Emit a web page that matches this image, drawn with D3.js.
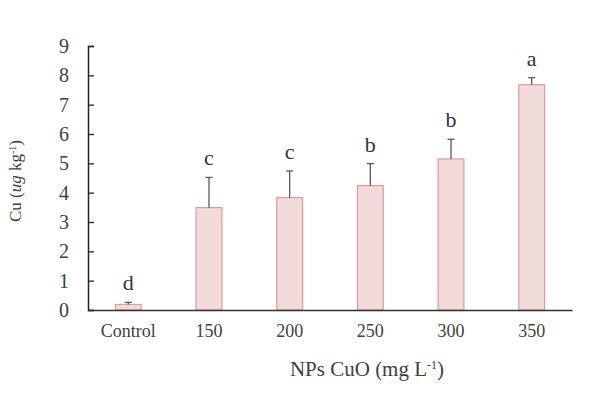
<!DOCTYPE html>
<html>
<head>
<meta charset="utf-8">
<script src="https://cdn.jsdelivr.net/npm/d3@7"></script>
<style>
  body { margin: 0; background: #fff; }
  svg text { font-family: "Liberation Serif", "Times New Roman", serif; }
</style>
</head>
<body>
<svg id="chart" width="609" height="398"></svg>
<script>
const categories = ["Control", "150", "200", "250", "300", "350"];
const means = [0.19, 3.49, 3.83, 4.24, 5.15, 7.68];
const errors = [0.07, 1.03, 0.91, 0.75, 0.67, 0.24];
const letters = ["d", "c", "c", "b", "b", "a"];
const yTicks = [0, 1, 2, 3, 4, 5, 6, 7, 8, 9];

const margin = {top: 46, right: 37, bottom: 88, left: 88};
const width = 609, height = 398;

const svg = d3.select("#chart");

const x = d3.scaleBand()
    .domain(categories)
    .range([margin.left, width - margin.right])
    .paddingInner(0.68)
    .paddingOuter(0.34);

const y = d3.scaleLinear()
    .domain([0, 9])
    .range([height - margin.bottom, margin.top]);

// bars
svg.append("g")
    .selectAll("rect")
    .data(categories)
    .enter().append("rect")
        .attr("x", d => x(d))
        .attr("y", (d, i) => y(means[i]))
        .attr("width", x.bandwidth())
        .attr("height", (d, i) => y(0) - y(means[i]))
        .attr("fill", "#f2dcdb")
        .attr("stroke", "#dc9a98")
        .attr("stroke-width", 1.2);

// error bars (upper only)
const err = svg.append("g").attr("stroke", "#595959").attr("stroke-width", 1.3);
categories.forEach((c, i) => {
    const cx = x(c) + x.bandwidth() / 2;
    err.append("line")
        .attr("x1", cx).attr("x2", cx)
        .attr("y1", y(means[i])).attr("y2", y(means[i] + errors[i]));
    err.append("line")
        .attr("x1", cx - 3.5).attr("x2", cx + 3.5)
        .attr("y1", y(means[i] + errors[i])).attr("y2", y(means[i] + errors[i]));
});

// significance letters
svg.append("g")
    .attr("text-anchor", "middle")
    .style("font-size", "22px")
    .attr("fill", "#333")
    .selectAll("text")
    .data(categories)
    .enter().append("text")
        .attr("x", d => x(d) + x.bandwidth() / 2)
        .attr("y", (d, i) => y(means[i] + errors[i]) - 12)
        .text((d, i) => letters[i]);

// y axis
const yAxis = svg.append("g")
    .attr("transform", `translate(${margin.left},0)`)
    .call(d3.axisLeft(y).tickValues(yTicks).tickSizeInner(-6).tickSizeOuter(-6).tickPadding(19));
yAxis.attr("font-family", null).attr("font-size", null);
yAxis.select(".domain").attr("stroke", "#222").attr("stroke-width", 1.5);
yAxis.selectAll(".tick line").attr("stroke", "#222").attr("stroke-width", 1.3);
yAxis.selectAll(".tick text")
    .style("font-size", "20px")
    .attr("fill", "#404040");

// x axis
const xAxis = svg.append("g")
    .attr("transform", `translate(0,${y(0)})`)
    .call(d3.axisBottom(x).tickSize(0).tickPadding(14));
xAxis.attr("font-family", null).attr("font-size", null);
xAxis.select(".domain").attr("stroke", "#333").attr("stroke-width", 1.5);
xAxis.selectAll(".tick text")
    .style("font-size", "18px")
    .attr("fill", "#404040");

// axis titles
const xTitle = svg.append("text")
    .attr("x", 367)
    .attr("y", 376)
    .attr("text-anchor", "middle")
    .style("font-size", "21px")
    .attr("fill", "#404040");
xTitle.append("tspan").text("NPs CuO (mg L");
xTitle.append("tspan").attr("baseline-shift", "super").style("font-size", "12px").text("-1");
xTitle.append("tspan").text(")");

const yTitle = svg.append("text")
    .attr("transform", "translate(21,181) rotate(-90)")
    .attr("text-anchor", "middle")
    .style("font-size", "17px")
    .attr("fill", "#404040");
yTitle.append("tspan").text("Cu (");
yTitle.append("tspan").style("font-style", "italic").text("ug");
yTitle.append("tspan").text(" kg");
yTitle.append("tspan").attr("baseline-shift", "super").style("font-size", "10px").text("-1");
yTitle.append("tspan").text(")");
</script>
</body>
</html>
